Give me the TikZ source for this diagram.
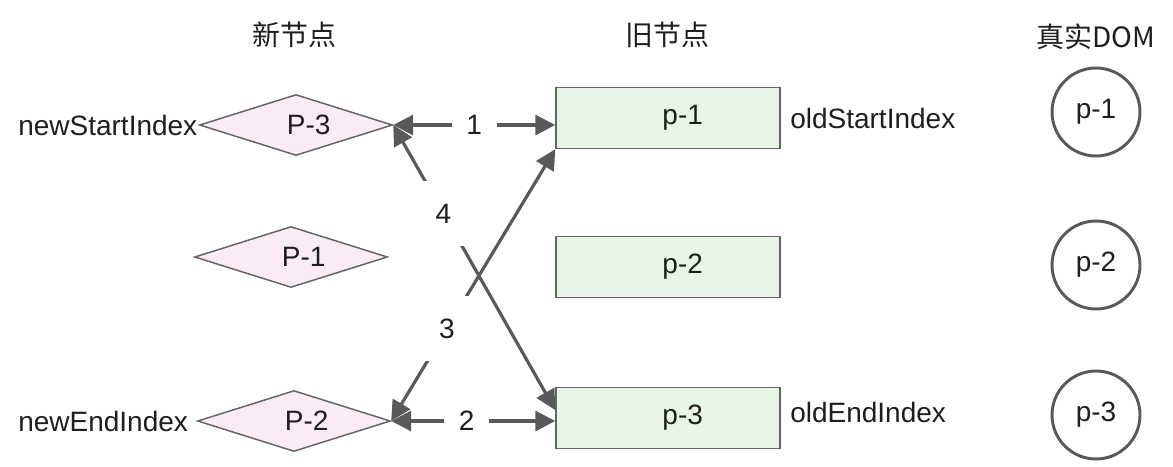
\documentclass[tikz,border=0pt]{standalone}
\usepackage{fontspec}
\setmainfont{Liberation Sans}
\newfontfamily\cjk{Noto Sans CJK SC}
\usetikzlibrary{arrows.meta,shapes.geometric,positioning}
\definecolor{linkgray}{RGB}{89,89,89}
\definecolor{boxline}{RGB}{100,100,100}
\definecolor{pinkfill}{RGB}{250,235,245}
\definecolor{greenfill}{RGB}{232,246,232}
\definecolor{txt}{RGB}{30,30,30}

\begin{document}
\begin{tikzpicture}[x=0.75pt,y=-0.75pt,font=\fontsize{21}{25}\selectfont,text=txt,
  newnode/.style={diamond,shape aspect=3.2,draw=boxline,fill=pinkfill,line width=1.1pt,minimum width=144.75pt,minimum height=45.75pt,inner sep=0pt,
    execute at begin node={\hspace*{19pt}}},
  oldnode/.style={rectangle,draw=boxline,fill=greenfill,line width=1.1pt,minimum width=168pt,minimum height=45.75pt,
    execute at begin node={\hspace*{22pt}}},
  domnode/.style={circle,draw=linkgray,line width=2.2pt,minimum size=66pt,inner sep=0pt},
  link/.style={draw=linkgray,line width=2.4pt,{Triangle[length=15pt,width=15pt]}-{Triangle[length=15pt,width=15pt]}},
  idx/.style={anchor=west,inner sep=0pt},
  num/.style={fill=white,inner xsep=11pt,inner ysep=17pt}]
\useasboundingbox (0,0) rectangle (1173,467);
% titles
\node (tnew) at (294,35) {\cjk 新节点};
\node (told) at (667,35) {\cjk 旧节点};
\node (tdom) at (1096,37) {\cjk 真实DOM};
% new nodes
\node[newnode] (new3) at (296,125) {P-3};
\node[newnode] (new1) at (291,257) {P-1};
\node[newnode] (new2) at (294,421) {P-2};
% old nodes
\foreach \i/\y in {1/118,2/267,3/418}
\node[oldnode] (old\i) at (668,\y) {p-\i};
% real dom
\foreach \i/\y in {1/112,2/265,3/415}
\node[domnode] (dom\i) at (1096,\y) {p-\i};
% indices
\node[idx] (nsi) at (18,125) {newStartIndex};
\node[idx] (nei) at (18,421) {newEndIndex};
\node[idx] (osi) at (790,118) {oldStartIndex};
\node[idx] (oei) at (790,412) {oldEndIndex};
% compare steps
\draw[link] (new3.east) -- node[num,pos=0.5] (n1) {1} (old1.west |- new3.east);
\draw[link] (new2.east) -- node[num,pos=0.46] (n2) {2} (old3.west |- new2.east);
\draw[link] (new2.east) -- node[num,pos=0.34] (n3) {3} (old1.south west);
\draw[link] (new3.east) -- node[num,pos=0.31] (n4) {4} (old3.176);
\end{tikzpicture}
\end{document}
